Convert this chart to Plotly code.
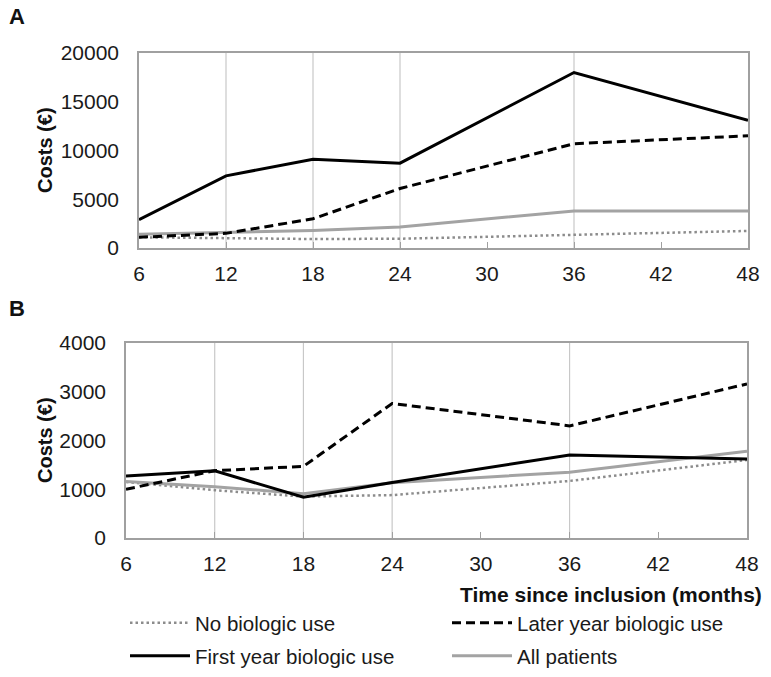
import plotly.graph_objects as go

# ---------------- data ----------------
MONTHS = [6, 12, 18, 24, 36, 48]
XTICKS = [6, 12, 18, 24, 30, 36, 42, 48]
GRID_MONTHS = [12, 18, 24, 36]
A_YTICKS = [0, 5000, 10000, 15000, 20000]
B_YTICKS = [0, 1000, 2000, 3000, 4000]

SERIES = ["No biologic use", "Later year biologic use", "First year biologic use", "All patients"]

A_NO_BIO = [1100, 1000, 920, 950, 1330, 1750]
A_LATER = [1100, 1500, 3000, 6100, 10700, 11500]
A_FIRST = [2900, 7400, 9100, 8700, 18000, 13100]
A_ALL = [1400, 1600, 1800, 2150, 3800, 3800]

B_NO_BIO = [1150, 980, 850, 880, 1170, 1600]
B_LATER = [1000, 1380, 1470, 2760, 2300, 3160]
B_FIRST = [1270, 1380, 835, 1140, 1700, 1620]
B_ALL = [1160, 1050, 910, 1135, 1350, 1780]

# ---------------- styling ----------------
W, H = 771, 677
FONT = "Liberation Sans, Arial, sans-serif"
STYLES = {
    "No biologic use": dict(color="#8c8c8c", width=2.5, dash="2.5px,3px"),
    "Later year biologic use": dict(color="#000000", width=3, dash="9px,5px"),
    "First year biologic use": dict(color="#000000", width=3, dash="solid"),
    "All patients": dict(color="#a3a3a3", width=3, dash="solid"),
}
LEGEND_POS = {  # (left px, center y px)
    "No biologic use": (125, 623),
    "Later year biologic use": (447, 623),
    "First year biologic use": (125, 656),
    "All patients": (447, 656),
}
LEGEND_IDS = {"No biologic use": "legend", "Later year biologic use": "legend2",
              "First year biologic use": "legend3", "All patients": "legend4"}


def px(x):
    return x / W


def py(y):
    return 1 - y / H


fig = go.Figure()
panel_data = {
    ("x", "y"): [A_NO_BIO, A_LATER, A_FIRST, A_ALL],
    ("x2", "y2"): [B_NO_BIO, B_LATER, B_FIRST, B_ALL],
}
draw_order = [0, 3, 1, 2]
for (xa, ya), vals in panel_data.items():
    for i in draw_order:
        name = SERIES[i]
        fig.add_trace(go.Scatter(
            x=MONTHS, y=vals[i], mode="lines", name=name,
            line=STYLES[name], xaxis=xa, yaxis=ya,
            showlegend=(xa == "x"), legend=LEGEND_IDS[name],
        ))

axis_common = dict(
    showline=True, mirror=True, linecolor="#a0a0a0", linewidth=1.5,
    showgrid=False, zeroline=False, automargin=False,
    tickfont=dict(family=FONT, size=21, color="#1a1a1a"),
)
fig.update_layout(
    template="none",
    width=W, height=H, margin=dict(l=0, r=0, t=0, b=0, pad=0, autoexpand=False),
    paper_bgcolor="white", plot_bgcolor="white",
    font=dict(family=FONT, size=20, color="#1a1a1a"),
    xaxis=dict(domain=[px(139), px(748)], anchor="y", range=[6, 48], tickvals=XTICKS,
               ticks="inside", ticklen=6, tickcolor="#a0a0a0", ticklabelstandoff=6, **axis_common),
    yaxis=dict(domain=[py(248), py(53)], anchor="x", range=[0, 20000], tickvals=A_YTICKS,
               tickformat="d", ticks="", ticklabelstandoff=14, **axis_common),
    xaxis2=dict(domain=[px(126), px(747)], anchor="y2", range=[6, 48], tickvals=XTICKS,
                ticks="inside", ticklen=6, tickcolor="#a0a0a0", ticklabelstandoff=6, **axis_common),
    yaxis2=dict(domain=[py(538), py(343)], anchor="x2", range=[0, 4000], tickvals=B_YTICKS,
                tickformat="d", ticks="", ticklabelstandoff=14, **axis_common),
)

# vertical gridlines at data months
for xr, yr in [("x", "y domain"), ("x2", "y2 domain")]:
    for g in GRID_MONTHS:
        fig.add_shape(type="line", xref=xr, yref=yr, x0=g, x1=g, y0=0, y1=1,
                      line=dict(color="#c8c8c8", width=1.2), layer="below")

# legends
for name, (lx, ly) in LEGEND_POS.items():
    fig.update_layout({LEGEND_IDS[name]: dict(
        x=px(lx), y=py(ly), xref="container", yref="container",
        xanchor="left", yanchor="middle", orientation="h",
        font=dict(family=FONT, size=20.5, color="#1a1a1a"), bgcolor="rgba(0,0,0,0)",
        borderwidth=0, itemwidth=60, tracegroupgap=0,
    )})

# text annotations
ann = [
    dict(text="<b>A</b>", x=px(7), y=py(17), xanchor="left", yanchor="middle", size=22, angle=0),
    dict(text="<b>B</b>", x=px(7), y=py(308), xanchor="left", yanchor="middle", size=22, angle=0),
    dict(text="<b>Costs (€)</b>", x=px(45), y=py(150), xanchor="center", yanchor="middle", size=20, angle=-90),
    dict(text="<b>Costs (€)</b>", x=px(45), y=py(440), xanchor="center", yanchor="middle", size=20, angle=-90),
    dict(text="<b>Time since inclusion (months)</b>", x=px(764), y=py(594), xanchor="right",
         yanchor="middle", size=21, angle=0),
]
for a in ann:
    fig.add_annotation(text=a["text"], x=a["x"], y=a["y"], xref="paper", yref="paper",
                       xanchor=a["xanchor"], yanchor=a["yanchor"], showarrow=False,
                       textangle=a["angle"], font=dict(family=FONT, size=a["size"], color="#111111"))

fig.write_html(
    "out.html",
    config={"displayModeBar": False},
    post_script="document.body.style.margin='0';document.documentElement.style.overflow='hidden';",
)
